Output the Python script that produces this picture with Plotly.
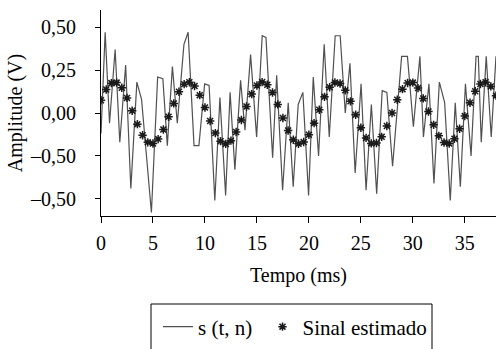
import plotly.graph_objects as go

# Noisy signal s(t, n) – vertices
noisy_t = [0.0, 0.19, 0.40, 0.82, 1.36, 1.81, 2.37, 2.87, 3.45, 3.90, 4.85, 5.45, 5.95, 6.38,
           6.87, 7.34, 7.98, 8.38, 8.95, 9.42, 9.97, 10.40, 10.95, 11.44, 11.99, 12.42, 12.88,
           13.43, 13.85, 14.39, 14.97, 15.51, 15.87, 16.51, 16.90, 17.47, 18.01, 18.49, 18.97,
           19.42, 19.97, 20.42, 20.93, 21.47, 21.96, 22.53, 23.01, 23.50, 23.95, 24.45, 25.02,
           25.50, 26.01, 26.52, 27.05, 27.50, 28.05, 28.92, 29.48, 30.05, 30.68, 31.02, 31.55,
           32.03, 32.55, 33.06, 33.60, 34.08, 34.57, 35.06, 35.60, 36.08, 36.30, 36.58, 37.06,
           37.54, 38.0]
noisy_v = [-0.12, 0.22, 0.47, -0.06, 0.37, -0.17, 0.28, -0.44, 0.18, 0.08, -0.58, 0.21, 0.20,
           -0.19, 0.27, -0.06, 0.40, 0.47, -0.19, -0.19, 0.17, 0.16, -0.51, 0.09, -0.48, 0.12,
           -0.33, 0.19, -0.10, 0.34, -0.14, 0.45, 0.44, -0.26, 0.22, -0.45, 0.06, -0.43, 0.05,
           0.12, -0.48, 0.21, -0.25, 0.40, -0.14, 0.45, 0.45, 0.00, 0.29, -0.35, 0.17, -0.45,
           0.05, -0.47, 0.13, 0.12, -0.31, 0.33, 0.33, -0.08, 0.33, -0.14, 0.17, -0.41, 0.18,
           0.06, -0.51, 0.06, -0.43, 0.17, -0.25, 0.33, 0.33, -0.17, 0.33, -0.14, 0.33]

# Estimated signal (markers)
est_t = [0.0, 0.5, 1.0, 1.5, 2.0, 2.5, 3.0, 3.5, 4.0, 4.5, 5.0, 5.5, 6.0, 6.5, 7.0, 7.5, 8.0,
         8.5, 9.0, 9.5, 10.0, 10.5, 11.0, 11.5, 12.0, 12.5, 13.0, 13.5, 14.0, 14.5, 15.0, 15.5,
         16.0, 16.5, 17.0, 17.5, 18.0, 18.5, 19.0, 19.5, 20.0, 20.5, 21.0, 21.5, 22.0, 22.5,
         23.0, 23.5, 24.0, 24.5, 25.0, 25.5, 26.0, 26.5, 27.0, 27.5, 28.0, 28.5, 29.0, 29.5,
         30.0, 30.5, 31.0, 31.5, 32.0, 32.5, 33.0, 33.5, 34.0, 34.5, 35.0, 35.5, 36.0, 36.5,
         37.0, 37.5, 38.0]
est_v = [0.074, 0.137, 0.174, 0.177, 0.147, 0.088, 0.013, -0.065, -0.130, -0.171, -0.178,
         -0.152, -0.096, -0.022, 0.056, 0.124, 0.168, 0.179, 0.157, 0.104, 0.032, -0.047,
         -0.117, -0.164, -0.180, -0.161, -0.111, -0.041, 0.038, 0.110, 0.160, 0.180, 0.165,
         0.119, 0.050, -0.029, -0.102, -0.156, -0.179, -0.169, -0.127, -0.059, 0.019, 0.094,
         0.150, 0.178, 0.172, 0.132, 0.068, -0.010, -0.086, -0.145, -0.177, -0.175, -0.139,
         -0.076, 0.000, 0.077, 0.139, 0.175, 0.177, 0.145, 0.085, 0.009, -0.069, -0.133,
         -0.172, -0.178, -0.150, -0.092, -0.018, 0.060, 0.127, 0.169, 0.179, 0.155, 0.101]

y_tickvals = [0.5, 0.25, 0.0, -0.25, -0.5]
y_ticktext = ["0,50", "0,25", "0,00", "\u20130,50", "\u20130,50"]
x_tickvals = [0, 5, 10, 15, 20, 25, 30, 35]

FONT = "Liberation Serif"

fig = go.Figure()
fig.add_trace(go.Scatter(
    x=noisy_t, y=noisy_v, mode="lines", name="s (t, n)\u00a0",
    line=dict(color="#505050", width=1.2),
))
fig.add_trace(go.Scatter(
    x=est_t, y=est_v, mode="markers", name="Sinal estimado",
    marker=dict(symbol="asterisk-open", size=7, color="#1a1a1a",
                line=dict(color="#1a1a1a", width=1.5)),
))

L, R, T, B = 101, 2, 10, 133
W, H = 498, 349
pw, ph = W - L - R, H - T - B

def px(x):
    return (x - L) / pw

def py(y):
    return (H - B - y) / ph

fig.add_shape(type="rect", xref="paper", yref="paper",
              x0=px(151), x1=px(432), y0=py(380), y1=py(304),
              line=dict(color="black", width=1), fillcolor="rgba(0,0,0,0)")

fig.update_layout(
    width=W, height=H,
    margin=dict(l=L, r=R, t=T, b=B, autoexpand=False),
    paper_bgcolor="white", plot_bgcolor="white",
    font=dict(family=FONT, size=20, color="black"),
    showlegend=True,
    legend=dict(orientation="h", x=px(158), y=py(327), xanchor="left", yanchor="middle",
                font=dict(family=FONT, size=21, color="black"),
                bgcolor="rgba(0,0,0,0)", borderwidth=0, itemwidth=30,
                tracegroupgap=0),
    xaxis=dict(range=[0, 38], tickvals=x_tickvals, ticks="outside", ticklen=6,
               tickwidth=1, tickcolor="black", showline=True, linecolor="black",
               linewidth=1, showgrid=False, zeroline=False, automargin=False,
               tickfont=dict(family=FONT, size=20), ticklabelstandoff=3,
               title=dict(text="Tempo (ms)", font=dict(family=FONT, size=20), standoff=14)),
    yaxis=dict(range=[-0.6, 0.6], tickvals=y_tickvals, ticktext=y_ticktext,
               ticks="outside", ticklen=5, tickwidth=1, tickcolor="black",
               showline=True, linecolor="black", linewidth=1, showgrid=False,
               zeroline=False, automargin=False, tickfont=dict(family=FONT, size=20),
               ticklabelstandoff=15,
               title=dict(text="Amplitude (V)", font=dict(family=FONT, size=20), standoff=2)),
)

fig.write_html("out.html", post_script="document.body.style.margin='0';",
               config={"displayModeBar": False})
